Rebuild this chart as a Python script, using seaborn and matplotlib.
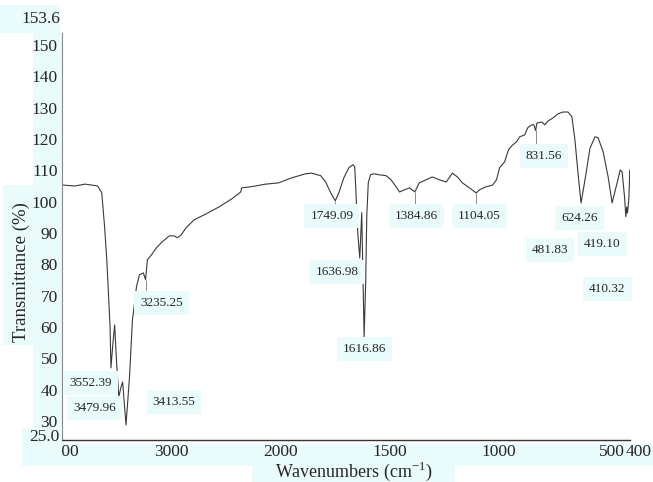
import numpy as np
import pandas as pd
import matplotlib
matplotlib.use("Agg")
import matplotlib.pyplot as plt
import matplotlib.transforms as mtransforms
from matplotlib.patches import Rectangle
import seaborn as sns

# ---------------- data ----------------
wavenumber = [
    3991, 3882, 3791, 3727, 3673, 3636, 3610, 3590, 3575, 3560,
    3552, 3535, 3518, 3500, 3480, 3460, 3445, 3430, 3414, 3382,
    3355, 3318, 3291, 3255, 3235, 3218, 3182, 3136, 3082, 3018,
    2973, 2945, 2909, 2864, 2791, 2682, 2564, 2446, 2364, 2355,
    2264, 2136, 2018, 1949, 1885, 1857, 1816, 1793, 1770, 1749,
    1733, 1710, 1687, 1668, 1660, 1655, 1646, 1637, 1628, 1617,
    1610, 1605, 1598, 1588, 1572, 1549, 1517, 1494, 1471, 1455,
    1432, 1409, 1385, 1365, 1333, 1305, 1273, 1241, 1213, 1190,
    1167, 1135, 1104, 1089, 1057, 1029, 1011, 997, 974, 956,
    937, 919, 905, 882, 868, 850, 840, 832, 826, 804,
    790, 776, 753, 730, 707, 684, 666, 652, 638, 624,
    606, 583, 560, 546, 523, 500, 482, 459, 445, 436,
    425, 419, 415, 412, 410, 405, 401]

transmittance = [
    105.3, 105.0, 105.6, 105.3, 105.0, 102.8, 92.0, 81.5, 70.9, 60.1,
    47.0, 54.4, 60.7, 48.6, 37.8, 40.8, 42.5, 35.9, 28.8, 44.1,
    62.3, 72.9, 76.7, 77.3, 75.1, 81.5, 83.0, 85.3, 87.2, 89.1,
    89.1, 88.5, 89.4, 91.7, 94.2, 96.1, 98.3, 100.9, 103.1, 104.4,
    104.8, 105.6, 106.0, 107.6, 108.9, 109.1, 108.3, 106.3, 102.8, 100.3,
    102.8, 107.6, 110.8, 111.8, 111.1, 103.8, 90.0, 82.0, 96.5, 56.9,
    74.1, 95.2, 106.0, 108.6, 108.9, 108.6, 108.3, 107.0, 104.8, 103.1,
    103.8, 104.4, 103.1, 106.0, 107.0, 107.9, 107.0, 106.3, 109.1, 107.9,
    106.0, 104.4, 102.8, 103.8, 104.8, 105.3, 107.0, 110.8, 112.7, 116.6,
    118.1, 119.1, 120.7, 121.3, 123.6, 124.5, 124.5, 122.7, 125.1, 125.4,
    124.5, 125.7, 126.7, 128.0, 128.6, 128.6, 127.1, 119.7, 109.1, 99.6,
    107.0, 117.1, 120.7, 120.4, 115.9, 107.9, 99.6, 106.0, 110.1, 109.5,
    101.5, 95.2, 98.3, 96.4, 97.3, 101.2, 110.1]

peak_labels = ["3552.39", "3479.96", "3413.55", "3235.25", "1749.09",
               "1636.98", "1616.86", "1384.86", "1104.05", "831.56",
               "624.26", "481.83", "419.10", "410.32"]
# label anchor positions (wavenumber, transmittance)
label_x = [3736, 3700, 2973, 3091, 1765, 1742, 1614, 1379, 1089, 795,
           631, 767, 526, 503]
label_y = [42.2, 34.2, 36.2, 67.7, 95.5, 77.6, 53.1, 95.5, 95.5, 114.6,
           94.8, 84.6, 86.5, 72.2]
marked_peaks = [3235.25, 1749.09, 1384.86, 1104.05, 831.56]

xticks = [4000, 3000, 2000, 1500, 1000, 500, 400]
xtick_labels = ["4000", "3000", "2000", "1500", "1000", "500", "400"]
yticks = [25, 30, 40, 50, 60, 70, 80, 90, 100, 110, 120, 130, 140, 150]
ytick_labels = ["", "30", "40", "50", "60", "70", "80", "90", "100",
                "110", "120", "130", "140", "150"]
y_min_label = "25.0"
y_max_label = "153.6"

# ---------------- style ----------------
sns.set_style("white")
plt.rcParams["font.family"] = ["Liberation Serif", "DejaVu Serif"]
plt.rcParams["mathtext.fontset"] = "custom"
plt.rcParams["mathtext.rm"] = "Liberation Serif"

BG = "#eafbfc"
W, H = 653, 482

fig = plt.figure(figsize=(W / 100, H / 100), dpi=100)
fig.patch.set_facecolor("white")


def px_rect(x0, y0, w, h, z=-5):
    r = Rectangle((x0 / W, 1 - (y0 + h) / H), w / W, h / H,
                  transform=fig.transFigure, fc=BG, ec="none", zorder=z)
    return r


for rect in [(0, 5, 60, 28), (33, 33, 29, 412), (3, 185, 32, 160),
             (22, 444, 631, 22), (252, 464, 203, 18)]:
    fig.patches.append(px_rect(*rect))

ax = fig.add_axes([62 / W, 42 / H, 568 / W, 407 / H])
ax.patch.set_alpha(0)

df = pd.DataFrame({"Wavenumber": wavenumber, "Transmittance": transmittance})
sns.lineplot(data=df, x="Wavenumber", y="Transmittance", sort=False,
             estimator=None, color="#3a3a3a", lw=0.8, ax=ax)


def fwd(w):
    w = np.asarray(w, float)
    return np.where(w > 2000, 2000 + (w - 2000) / 2.0, w)


def inv(u):
    u = np.asarray(u, float)
    return np.where(u > 2000, 2000 + (u - 2000) * 2.0, u)


ax.set_xscale("function", functions=(fwd, inv))
ax.set_xlim(4000, 400)
ax.set_ylim(24.0, 153.8)
ax.set_xticks(xticks)
ax.set_xticklabels(xtick_labels)
ax.set_yticks(yticks)
ax.set_yticklabels(ytick_labels)
ax.minorticks_off()

ax.tick_params(axis="x", direction="in", length=3, width=0.6, pad=3,
               labelsize=12.5, color="#666666")
ax.tick_params(axis="y", direction="out", length=2, width=0.6, pad=1,
               labelsize=12.5, color="#666666")

# nudge the two crowded right-hand tick labels like the reference
for lbl, dx in zip(ax.get_xticklabels()[-2:], [4, 9]):
    lbl.set_transform(lbl.get_transform() +
                      mtransforms.ScaledTranslation(dx / 100, 0, fig.dpi_scale_trans))

for s in ["top", "right"]:
    ax.spines[s].set_visible(False)
ax.spines["left"].set_color("#8a8a8a")
ax.spines["left"].set_linewidth(0.8)
ax.spines["bottom"].set_color("#333333")
ax.spines["bottom"].set_linewidth(1.0)

ax.set_xlabel(r"Wavenumbers (cm$^{\mathregular{-1}}$)", fontsize=13)
ax.xaxis.set_label_coords(0.514, -0.049)
ax.set_ylabel("Transmittance (%)", fontsize=13.5, va="center")
ax.yaxis.set_label_coords(-0.072, 0.413)

# corner box hiding the left part of the first x tick label, with 25.0 on it
cover = px_rect(22, 428, 40, 38, z=2.6)
cover.set_clip_on(False)
ax.add_artist(cover)
ax.text(-0.004, 25, y_min_label, transform=ax.get_yaxis_transform(),
        ha="right", va="center", fontsize=12.5, zorder=3)
ax.text(-0.0035, 1.035, y_max_label, transform=ax.transAxes, ha="right",
        va="center", fontsize=12.5)

# peak marker lines
wn_arr = np.array(wavenumber[::-1], float)
t_arr = np.array(transmittance[::-1], float)
for p in marked_peaks:
    tp = np.interp(p, wn_arr, t_arr)
    ax.vlines(p, tp - 4.5, tp, color="#777777", lw=0.6)

for lab, lx, ly in zip(peak_labels, label_x, label_y):
    ax.text(lx, ly, lab, ha="center", va="center", fontsize=9.5,
            bbox=dict(boxstyle="square,pad=0.45", fc=BG, ec="none"))

fig.savefig("out.png", dpi=100)
